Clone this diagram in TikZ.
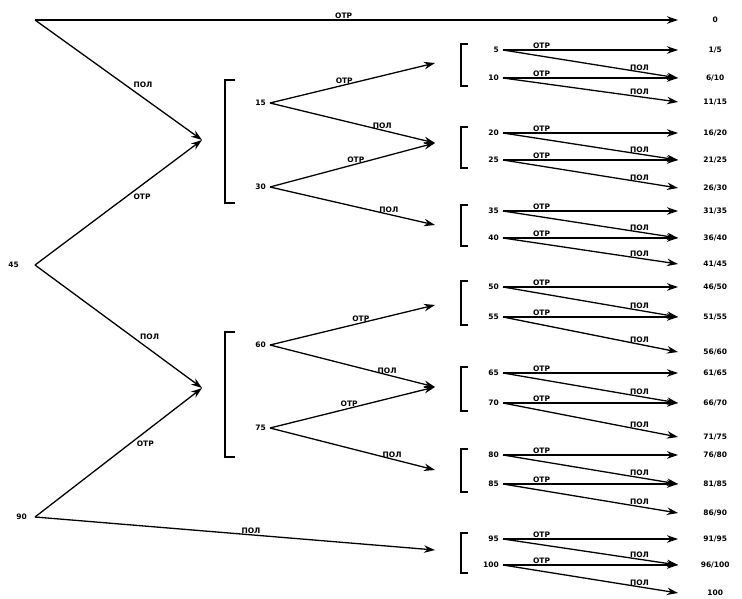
\documentclass[tikz,border=0pt]{standalone}
\usepackage{fontspec}
\setmainfont{DejaVu Sans}
\usetikzlibrary{arrows.meta,positioning}

\newcommand*{\xtip}{678}
\newcommand*{\xmid}{435}
\newcommand*{\xfirst}{202}
\newcommand*{\xval}{503}

% one group of the last level: #1 name, #2 #3 #4 rows, #5 #6 values, #7 #8 #9 results
\newcommand*{\grp}[9]{%
	\draw[brk] (468,#2-6) -- (461,#2-6) -- (461,#3+8) -- (468,#3+8);
	\node[val] (#1a) at (\xval,#2) {#5};
	\node[val] (#1b) at (\xval,#3) {#6};
	\node[leaf] (#1x) at (\xtip,#2) {#7};
	\node[leaf] (#1y) at (\xtip,#3) {#8};
	\node[leaf] (#1z) at (\xtip,#4) {#9};
	\draw[arr] (#1a.east) -- node[edgelbl,above,pos=0.22] {ОТР} (#1x.west);
	\draw[arr] (#1a.east) -- node[edgelbl,above,pos=0.78] {ПОЛ} (#1y.west);
	\draw[arr] (#1b.east) -- node[edgelbl,above,pos=0.22] {ОТР} (#1y.west);
	\draw[arr] (#1b.east) -- node[edgelbl,above,pos=0.78] {ПОЛ} (#1z.west);
}

\begin{document}
\begin{tikzpicture}
[
	x=1pt,
	y=-1pt,
	arr/.style={-{Stealth[length=11pt,width=7.5pt]},line width=1.3pt},
	brk/.style={line width=1.5pt},
	edgelbl/.style={font=\fontsize{7.5}{8}\selectfont\bfseries,inner sep=1pt},
	val/.style={anchor=east,inner xsep=4pt,font=\fontsize{7.5}{8}\selectfont\bfseries},
	leaf/.style={anchor=west,text width=40pt,align=center,inner xsep=17pt,font=\fontsize{7.5}{8}\selectfont\bfseries}
]
	\useasboundingbox (0,0) rectangle (742,599);

	% first level
	\coordinate (root) at (35,20);
	\node[val,inner xsep=16pt] (n45) at (35,265) {45};
	\node[val,inner xsep=8pt] (n90) at (35,517) {90};
	\coordinate (f1) at (\xfirst,140);
	\coordinate (f2) at (\xfirst,388);
	\node[leaf] (leaf0) at (\xtip,20) {0};

	\draw[arr] (root) -- node[edgelbl,above,pos=0.48] {ОТР} (leaf0.west);
	\draw[arr] (root) -- node[edgelbl,anchor=south west,pos=0.58] {ПОЛ} (f1);
	\draw[arr] (n45.east) -- node[edgelbl,anchor=north west,pos=0.58] {ОТР} (f1);
	\draw[arr] (n45.east) -- node[edgelbl,anchor=south west,pos=0.62] {ПОЛ} (f2);
	\draw[arr] (n90.east) -- node[edgelbl,anchor=north west,pos=0.6] {ОТР} (f2);

	% second level
	\draw[brk] (235,80) -- (225,80) -- (225,203) -- (235,203);
	\draw[brk] (235,332) -- (225,332) -- (225,457) -- (235,457);
	\node[val] (n15) at (270,103) {15};
	\node[val] (n30) at (270,187) {30};
	\node[val] (n60) at (270,345) {60};
	\node[val] (n75) at (270,428) {75};
	\coordinate (t1) at (\xmid,63);
	\coordinate (t2) at (\xmid,143);
	\coordinate (t3) at (\xmid,225);
	\coordinate (t4) at (\xmid,305);
	\coordinate (t5) at (\xmid,387);
	\coordinate (t6) at (\xmid,470);
	\coordinate (t7) at (\xmid,550);

	\draw[arr] (n15.east) -- node[edgelbl,above,pos=0.45] {ОТР} (t1);
	\draw[arr] (n15.east) -- node[edgelbl,above,pos=0.68] {ПОЛ} (t2);
	\draw[arr] (n30.east) -- node[edgelbl,above,pos=0.52] {ОТР} (t2);
	\draw[arr] (n30.east) -- node[edgelbl,above,pos=0.72] {ПОЛ} (t3);
	\draw[arr] (n60.east) -- node[edgelbl,above,pos=0.55] {ОТР} (t4);
	\draw[arr] (n60.east) -- node[edgelbl,above,pos=0.71] {ПОЛ} (t5);
	\draw[arr] (n75.east) -- node[edgelbl,above,pos=0.48] {ОТР} (t5);
	\draw[arr] (n75.east) -- node[edgelbl,above,pos=0.74] {ПОЛ} (t6);
	\draw[arr] (n90.east) -- node[edgelbl,above,pos=0.54] {ПОЛ} (t7);

	% last level
	\grp{r1}{50}{78}{102}{5}{10}{1/5}{6/10}{11/15}
	\grp{r2}{133}{160}{188}{20}{25}{16/20}{21/25}{26/30}
	\grp{r3}{211}{238}{264}{35}{40}{31/35}{36/40}{41/45}
	\grp{r4}{287}{317}{352}{50}{55}{46/50}{51/55}{56/60}
	\grp{r5}{373}{403}{437}{65}{70}{61/65}{66/70}{71/75}
	\grp{r6}{455}{484}{513}{80}{85}{76/80}{81/85}{86/90}
	\grp{r7}{539}{565}{593}{95}{100}{91/95}{96/100}{100}

\end{tikzpicture}
\end{document}
